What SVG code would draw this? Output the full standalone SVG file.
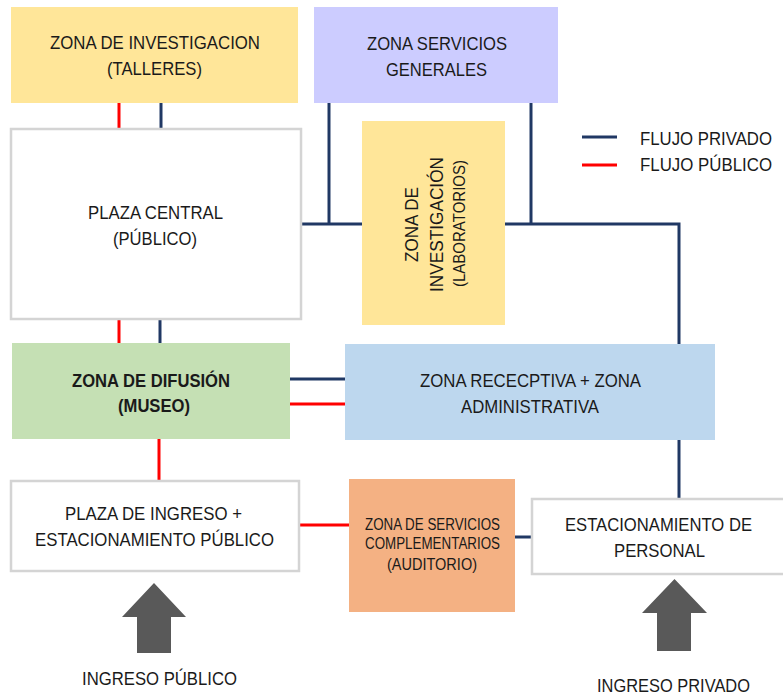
<svg xmlns="http://www.w3.org/2000/svg" width="783" height="696" viewBox="0 0 783 696">
<style>
.t{font-family:"Liberation Sans",Arial,sans-serif;font-size:19px;fill:#1a1a1a;text-anchor:middle}
.s{font-size:16px}
.b{font-weight:bold}
.l{text-anchor:start;font-size:17.5px}
.pv{stroke:#203864;stroke-width:3;fill:none}
.pb{stroke:#ff0000;stroke-width:3;fill:none}
.w{fill:#ffffff;stroke:#d4d4d4;stroke-width:2.5}
.ar{fill:#595959}
</style>
<rect width="783" height="696" fill="#ffffff"/>
<g id="connectors">
<line class="pb" x1="119" y1="103" x2="119" y2="129"/>
<line class="pv" x1="161" y1="103" x2="161" y2="129"/>
<line class="pb" x1="119" y1="319" x2="119" y2="343"/>
<line class="pv" x1="160" y1="319" x2="160" y2="343"/>
<polyline class="pv" points="301,224 362,224"/>
<line class="pv" x1="329" y1="103" x2="329" y2="224"/>
<polyline class="pv" points="505,224 679,224 679,344"/>
<line class="pv" x1="531" y1="103" x2="531" y2="224"/>
<line class="pv" x1="679" y1="440" x2="679" y2="499"/>
<line class="pv" x1="290" y1="379" x2="345" y2="379"/>
<line class="pb" x1="290" y1="404" x2="345" y2="404"/>
<line class="pb" x1="159" y1="439" x2="159" y2="481"/>
<line class="pb" x1="299" y1="525" x2="349" y2="525"/>
<line class="pv" x1="515" y1="537" x2="532" y2="537"/>
</g>
<g id="talleres">
<rect x="11" y="7" width="287" height="96" fill="#ffe699"/>
<text class="t" x="155" y="49" textLength="210" lengthAdjust="spacingAndGlyphs">ZONA DE INVESTIGACION</text>
<text class="t" x="154.5" y="75" textLength="95" lengthAdjust="spacingAndGlyphs">(TALLERES)</text>
</g>
<g id="servicios-generales">
<rect x="314" y="7" width="244" height="96" fill="#ccccff"/>
<text class="t" x="437" y="50" textLength="140" lengthAdjust="spacingAndGlyphs">ZONA SERVICIOS</text>
<text class="t" x="436.5" y="76" textLength="101" lengthAdjust="spacingAndGlyphs">GENERALES</text>
</g>
<g id="plaza-central">
<rect class="w" x="11" y="129" width="290" height="190"/>
<text class="t" x="155.5" y="219" textLength="135" lengthAdjust="spacingAndGlyphs">PLAZA CENTRAL</text>
<text class="t" x="155" y="245" textLength="84" lengthAdjust="spacingAndGlyphs">(PÚBLICO)</text>
</g>
<g id="laboratorios">
<rect x="362" y="121" width="143" height="204" fill="#ffe699"/>
<text class="t" transform="translate(418,224.5) rotate(-90)" x="0" y="0" textLength="75" lengthAdjust="spacingAndGlyphs">ZONA DE</text>
<text class="t" transform="translate(443,224.5) rotate(-90)" x="0" y="0" textLength="135" lengthAdjust="spacingAndGlyphs">INVESTIGACIÓN</text>
<text class="t s" transform="translate(465,223.5) rotate(-90)" x="0" y="0" textLength="127" lengthAdjust="spacingAndGlyphs">(LABORATORIOS)</text>
</g>
<g id="legend">
<line class="pv" x1="582" y1="137" x2="617" y2="137"/>
<line class="pb" x1="582" y1="165" x2="617" y2="165"/>
<text class="t l" x="640" y="145" textLength="132" lengthAdjust="spacingAndGlyphs">FLUJO PRIVADO</text>
<text class="t l" x="640" y="171" textLength="132" lengthAdjust="spacingAndGlyphs">FLUJO PÚBLICO</text>
</g>
<g id="difusion">
<rect x="12" y="343" width="278" height="96" fill="#c5e0b4"/>
<text class="t b" x="151" y="387" textLength="158" lengthAdjust="spacingAndGlyphs">ZONA DE DIFUSIÓN</text>
<text class="t b" x="154" y="412" textLength="72" lengthAdjust="spacingAndGlyphs">(MUSEO)</text>
</g>
<g id="receptiva">
<rect x="345" y="344" width="370" height="96" fill="#bdd7ee"/>
<text class="t" x="530.5" y="387" textLength="221" lengthAdjust="spacingAndGlyphs">ZONA RECECPTIVA + ZONA</text>
<text class="t" x="530" y="413" textLength="138" lengthAdjust="spacingAndGlyphs">ADMINISTRATIVA</text>
</g>
<g id="plaza-ingreso">
<rect class="w" x="11" y="481" width="288" height="90"/>
<text class="t" x="153.5" y="520" textLength="177" lengthAdjust="spacingAndGlyphs">PLAZA DE INGRESO +</text>
<text class="t" x="154.5" y="546" textLength="239" lengthAdjust="spacingAndGlyphs">ESTACIONAMIENTO PÚBLICO</text>
</g>
<g id="auditorio">
<rect x="349" y="479" width="166" height="133" fill="#f4b183"/>
<text class="t s" x="432.5" y="530" textLength="135" lengthAdjust="spacingAndGlyphs">ZONA DE SERVICIOS</text>
<text class="t s" x="432.5" y="549" textLength="135" lengthAdjust="spacingAndGlyphs">COMPLEMENTARIOS</text>
<text class="t s" x="432" y="570" textLength="90" lengthAdjust="spacingAndGlyphs">(AUDITORIO)</text>
</g>
<g id="estacionamiento-personal">
<rect class="w" x="532" y="499" width="260" height="75"/>
<text class="t" x="658.5" y="531" textLength="187" lengthAdjust="spacingAndGlyphs">ESTACIONAMIENTO DE</text>
<text class="t" x="659.5" y="557" textLength="91" lengthAdjust="spacingAndGlyphs">PERSONAL</text>
</g>
<g id="ingreso-publico">
<polygon class="ar" points="154,583 186,617 171,617 171,653 137,653 137,617 122,617"/>
<text class="t" x="159.5" y="685" textLength="155" lengthAdjust="spacingAndGlyphs">INGRESO PÚBLICO</text>
</g>
<g id="ingreso-privado">
<polygon class="ar" points="674.5,579 707,613 691,613 691,651 657,651 657,613 642,613"/>
<text class="t" x="673.5" y="692" textLength="153" lengthAdjust="spacingAndGlyphs">INGRESO PRIVADO</text>
</g>
</svg>
